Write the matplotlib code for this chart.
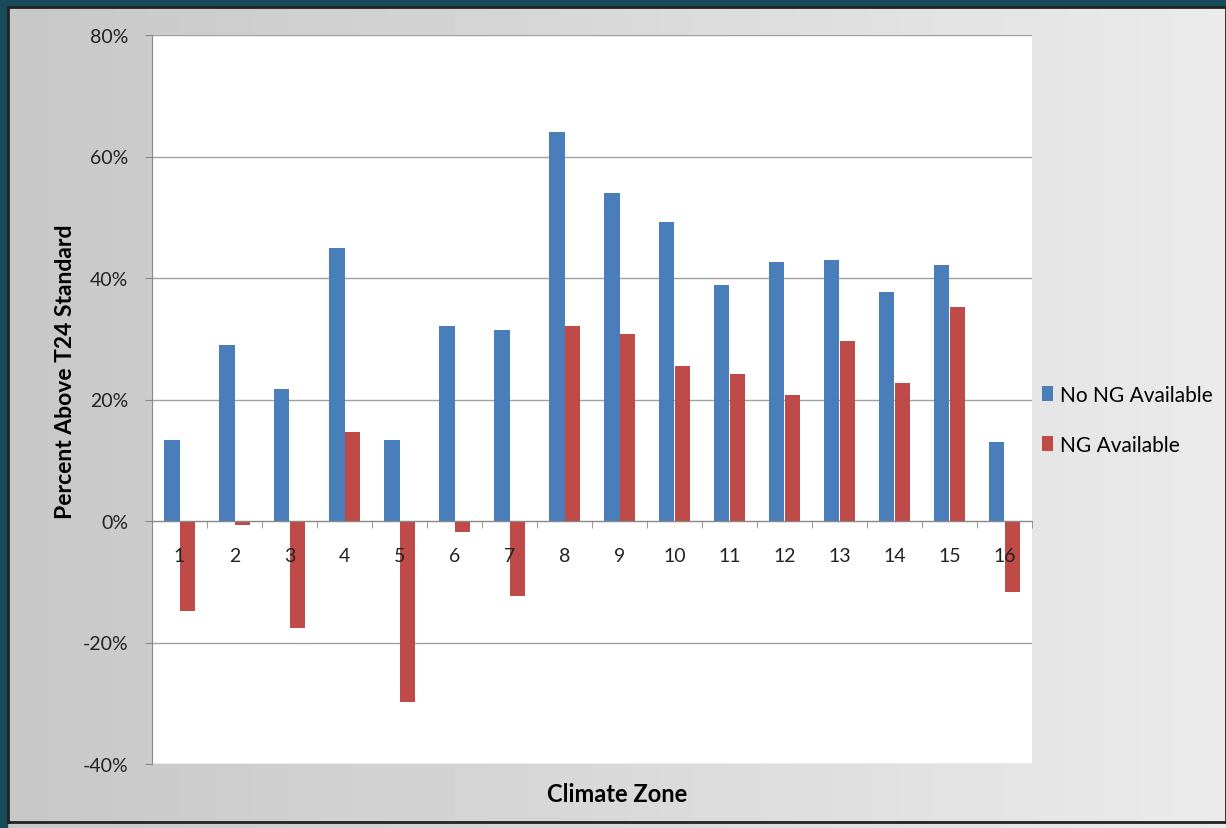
import numpy as np
import matplotlib.pyplot as plt
from matplotlib.patches import Rectangle

zones = list(range(1, 17))
no_ng = [13.3, 29.0, 21.7, 44.9, 13.3, 32.1, 31.4, 64.0, 54.0, 49.2, 38.8, 42.6, 43.0, 37.7, 42.1, 13.0]
ng = [-14.8, -0.7, -17.6, 14.6, -29.8, -1.8, -12.3, 32.1, 30.8, 25.5, 24.2, 20.7, 29.6, 22.7, 35.2, -11.7]
yticks = [-40, -20, 0, 20, 40, 60, 80]

blue = '#4a7ebb'
red = '#be4b48'
plt.rcParams['font.family'] = ['Lato', 'DejaVu Sans']

fig = plt.figure(figsize=(12.26, 8.29), dpi=100)

# background gradient + frame
bg = fig.add_axes([0, 0, 1, 1], zorder=-10)
grad = np.linspace(0.78, 0.92, 256)[None, :]
grad = np.repeat(grad, 2, axis=0)
bg.imshow(grad, cmap='gray', vmin=0, vmax=1, aspect='auto', extent=[0, 1, 0, 1])
bg.set_xlim(0, 1)
bg.set_ylim(0, 1)
bg.axis('off')
teal = '#174b5a'
bg.add_patch(Rectangle((0, 0), 7/1226, 1, color=teal, transform=bg.transAxes))
bg.add_patch(Rectangle((0, 1 - 7/829), 1, 7/829, color=teal, transform=bg.transAxes))
bg.plot([8/1226, 8/1226, 1, 1], [6/829, 1 - 8/829, 1 - 8/829, 6/829], color='#222222', lw=2)
bg.plot([8/1226, 1], [6/829, 6/829], color='#222222', lw=2)

ax = fig.add_axes([152/1226, 64/829, 880/1226, 729/829])
ax.set_facecolor('white')
x = np.arange(len(zones))
w = 0.28
ax.bar(x - w/2, no_ng, w, color=blue, label='No NG Available', zorder=3)
ax.bar(x + w/2, ng, w, color=red, label='NG Available', zorder=3)

ax.set_xlim(-0.5, len(zones) - 0.5)
ax.set_ylim(-40, 80)
ax.set_yticks(yticks)
ax.set_yticklabels([f'{v}%' for v in yticks], fontsize=14, color='#222222')
ax.yaxis.grid(True, color='#a0a0a0', lw=1, zorder=0)
ax.tick_params(axis='y', direction='out', length=5, color='#888888', pad=12)

ax.spines['bottom'].set_position(('data', 0))
ax.spines['bottom'].set_color('#888888')
ax.spines['bottom'].set_zorder(4)
ax.spines['left'].set_color('#888888')
ax.spines['top'].set_visible(False)
ax.spines['right'].set_visible(False)
ax.set_xticks(x)
ax.set_xticklabels([])
ax.set_xticks(np.arange(-0.5, len(zones)), minor=True)
ax.tick_params(axis='x', which='major', length=0)
ax.tick_params(axis='x', which='minor', direction='out', length=5, color='#888888')
# zone labels drawn over the bars, as in the original
for xi, z in zip(x, zones):
    ax.text(xi, -5.7, str(z), fontsize=14, color='#222222', ha='center', va='center', zorder=5)

ax.set_ylabel('Percent Above T24 Standard', fontsize=16.5, fontweight='bold')
ax.yaxis.set_label_coords(-76/880, 0.54)
fig.text(617/1226, 1 - 795/829, 'Climate Zone', fontsize=17, fontweight='bold', ha='center', va='center')

ax.legend(loc='center left', bbox_to_anchor=(0.99, 0.472), frameon=False, fontsize=15,
          handlelength=0.55, handleheight=0.7, handletextpad=0.3, labelspacing=1.45)

fig.savefig('out.png', dpi=100)
